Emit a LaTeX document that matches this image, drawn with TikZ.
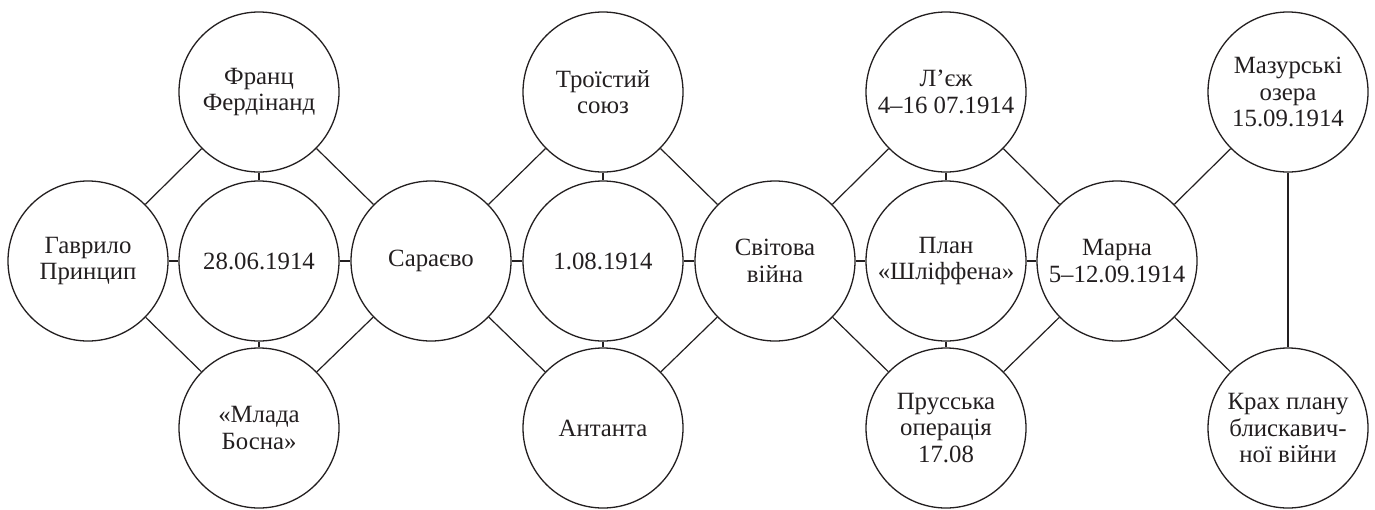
\documentclass[tikz,border=0pt]{standalone}
\usepackage{fontspec}
\setmainfont{Liberation Serif}
\begin{document}
\begin{tikzpicture}[x=0.5pt,y=-0.5pt]
\definecolor{fillColor}{RGB}{255,255,255}
\definecolor{drawColor}{RGB}{35,31,32}
\tikzset{
  event/.style={circle,draw=drawColor,line width=0.65pt,inner sep=0pt,
    minimum size=80pt,align=center,text=drawColor,
    font=\fontsize{12.4}{13.3}\selectfont},
  link/.style={draw=drawColor,line width=0.6pt,line join=round}
}
\path[use as bounding box,fill=fillColor] (0,0) rectangle (1375,509);

\node[event] (gavrylo)  at (  88.0,261) {Гаврило\\Принцип};
\node[event] (franz)    at ( 259.0, 92) {Франц\\Фердінанд};
\node[event] (date1)    at ( 259.0,261) {28.06.1914};
\node[event] (bosna)    at ( 259.0,428) {«Млада\\Босна»};
\node[event] (sarajevo) at ( 431.0,261) {Сараєво};
\node[event] (triple)   at ( 603.0, 92) {Троїстий\\союз};
\node[event] (date2)    at ( 603.0,261) {1.08.1914};
\node[event] (entente)  at ( 603.0,428) {Антанта};
\node[event] (war)      at ( 775.0,261) {Світова\\війна};
\node[event] (liege)    at ( 946.0, 92) {Л’єж\\4–16 07.1914};
\node[event] (plan)     at ( 946.0,261) {План\\«Шліффена»};
\node[event] (prussia)  at ( 946.0,428) {Прусська\\операція\\17.08};
\node[event] (marne)    at (1117.0,261) {Марна\\5–12.09.1914};
\node[event] (masuria)  at (1288.0, 92) {Мазурські\\озера\\15.09.1914};
\node[event] (crash)    at (1288.0,428) {Крах плану\\блискавич-\\ної війни};

% diagonals
\path[link] (gavrylo) -- (franz);
\path[link] (gavrylo) -- (bosna);
\path[link] (franz) -- (sarajevo);
\path[link] (bosna) -- (sarajevo);
\path[link] (sarajevo) -- (triple);
\path[link] (sarajevo) -- (entente);
\path[link] (triple) -- (war);
\path[link] (entente) -- (war);
\path[link] (war) -- (liege);
\path[link] (war) -- (prussia);
\path[link] (liege) -- (marne);
\path[link] (prussia) -- (marne);
\path[link] (marne) -- (masuria);
\path[link] (marne) -- (crash);
\path[link] (masuria) -- (crash);

% short joints
\path[link] (gavrylo) -- (date1);
\path[link] (date1) -- (sarajevo);
\path[link] (sarajevo) -- (date2);
\path[link] (date2) -- (war);
\path[link] (war) -- (plan);
\path[link] (plan) -- (marne);
\path[link] (franz) -- (date1);
\path[link] (date1) -- (bosna);
\path[link] (triple) -- (date2);
\path[link] (date2) -- (entente);
\path[link] (liege) -- (plan);
\path[link] (plan) -- (prussia);
\end{tikzpicture}
\end{document}
